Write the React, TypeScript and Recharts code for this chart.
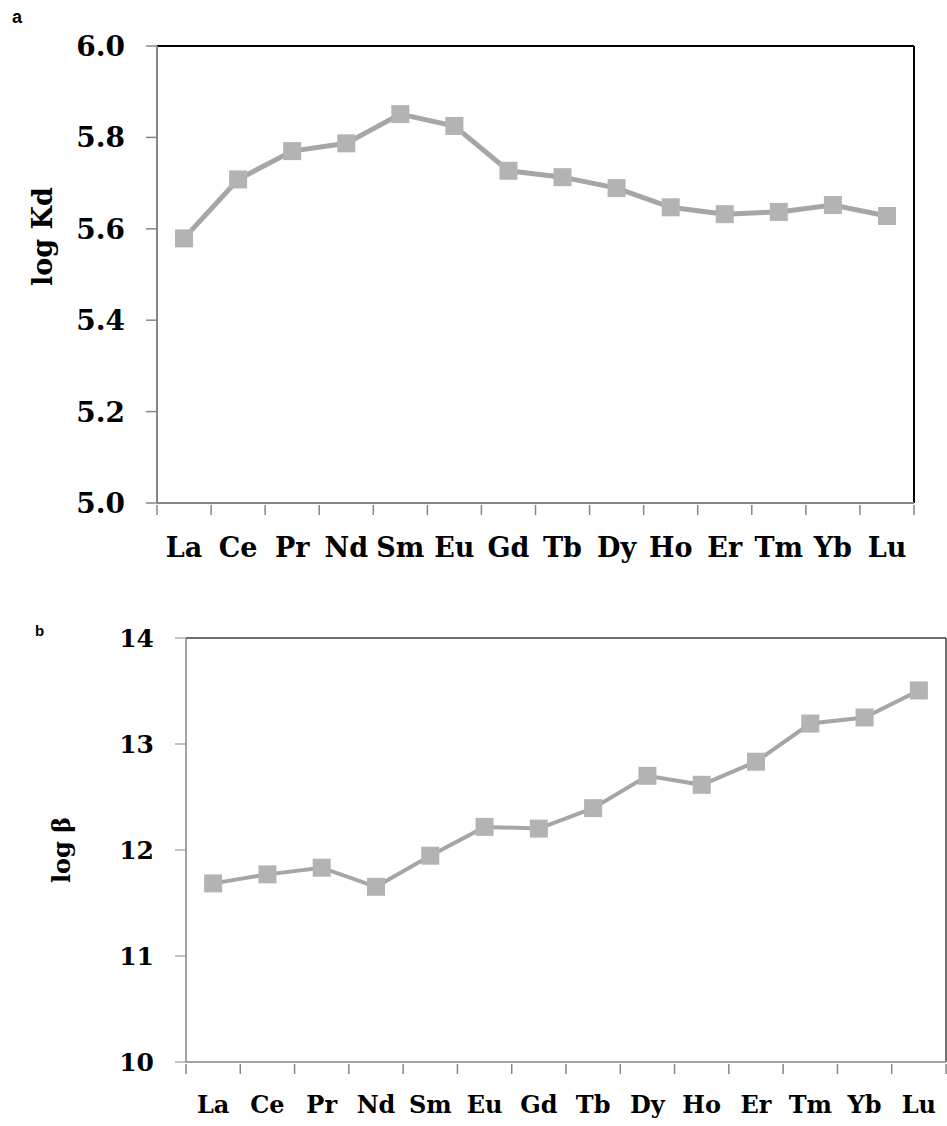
import React from "react";
import { LineChart, Line, XAxis, YAxis, ReferenceLine } from "recharts";

const elements = ["La", "Ce", "Pr", "Nd", "Sm", "Eu", "Gd", "Tb", "Dy", "Ho", "Er", "Tm", "Yb", "Lu"];
const logKd = [5.579, 5.708, 5.77, 5.787, 5.851, 5.825, 5.727, 5.713, 5.689, 5.647, 5.632, 5.637, 5.652, 5.628];
const logBeta = [11.685, 11.77, 11.833, 11.653, 11.946, 12.218, 12.202, 12.395, 12.7, 12.615, 12.833, 13.193, 13.25, 13.505];
const kdTicks = [5.0, 5.2, 5.4, 5.6, 5.8, 6.0];
const betaTicks = [10, 11, 12, 13, 14];

const SERIF = "'DejaVu Serif', serif";
const AXIS_GREY = "#868686";

// x positions are band centres; integer ticks mark band edges
const xTicks: number[] = [];
for (let i = 0; i <= elements.length * 2; i++) xTicks.push(i / 2);

const dataA = elements.map((el, i) => ({ x: i + 0.5, name: el, v: logKd[i] }));
const dataB = elements.map((el, i) => ({ x: i + 0.5, name: el, v: logBeta[i] }));

function makeTick(fontSize: number, labelGap: number) {
  return (props: any) => {
    const { x, y, payload } = props;
    const val = payload.value as number;
    if (Number.isInteger(val)) {
      return <line x1={x} y1={y} x2={x} y2={y + 10} stroke={AXIS_GREY} strokeWidth={1.5} />;
    }
    const label = elements[Math.floor(val)];
    return (
      <text x={x} y={y + labelGap} textAnchor="middle" dominantBaseline="hanging"
        fontFamily={SERIF} fontWeight="bold" fontSize={fontSize} fill="#000">
        {label}
      </text>
    );
  };
}

function Square(props: any) {
  const { cx, cy, size } = props;
  if (cx == null || cy == null) return null;
  return <rect x={cx - size / 2} y={cy - size / 2} width={size} height={size} fill="#b3b3b3" />;
}

export default function App() {
  return (
    <div style={{ position: "absolute", left: 0, top: 0, width: 947, height: 1126, background: "#fff" }}>
      <div style={{ position: "absolute", left: 12, top: 7, fontFamily: "'Liberation Sans', Arial", fontWeight: "bold", fontSize: 18 }}>a</div>
      <div style={{ position: "absolute", left: 35, top: 622, fontFamily: "'Liberation Sans', Arial", fontWeight: "bold", fontSize: 15 }}>b</div>

      <div style={{ position: "absolute", left: 0, top: 0 }}>
        <LineChart width={947} height={600} data={dataA} margin={{ top: 46, right: 33, bottom: 37, left: 0 }}>
          <XAxis dataKey="x" type="number" domain={[0, 14]} ticks={xTicks} interval={0}
            tickSize={0} tickLine={false} tick={makeTick(27, 32)} height={60}
            axisLine={{ stroke: AXIS_GREY, strokeWidth: 2 }} />
          <YAxis type="number" domain={[5, 6]} ticks={kdTicks} width={157} interval={0}
            tickFormatter={(v: number) => v.toFixed(1)}
            tickSize={11} tickMargin={21}
            tickLine={{ stroke: AXIS_GREY, strokeWidth: 1.5 }}
            axisLine={{ stroke: AXIS_GREY, strokeWidth: 2 }}
            tick={{ fontFamily: SERIF, fontWeight: "bold", fontSize: 28, fill: "#000" }}
            label={{ value: "log Kd", angle: -90, position: "insideLeft", dx: 37, dy: -38,
              style: { fontFamily: SERIF, fontWeight: "bold", fontSize: 27, fill: "#000", textAnchor: "middle" } }} />
          <ReferenceLine y={6} stroke="#000" strokeWidth={2} ifOverflow="visible" />
          <ReferenceLine x={14} stroke="#000" strokeWidth={2} ifOverflow="visible" />
          <Line dataKey="v" stroke="#a6a6a6" strokeWidth={5} isAnimationActive={false}
            dot={(p: any) => <Square key={p.index} {...p} size={18} />} activeDot={false} />
        </LineChart>
      </div>

      <div style={{ position: "absolute", left: 0, top: 600 }}>
        <LineChart width={947} height={526} data={dataB} margin={{ top: 38, right: 1, bottom: 4, left: 0 }}>
          <XAxis dataKey="x" type="number" domain={[0, 14]} ticks={xTicks} interval={0}
            tickSize={0} tickLine={false} tick={makeTick(24, 31)} height={60}
            axisLine={{ stroke: AXIS_GREY, strokeWidth: 1.5 }} />
          <YAxis type="number" domain={[10, 14]} ticks={betaTicks} width={186} interval={0}
            tickSize={11} tickMargin={21}
            tickLine={{ stroke: AXIS_GREY, strokeWidth: 1 }}
            axisLine={{ stroke: AXIS_GREY, strokeWidth: 1.5 }}
            tick={{ fontFamily: SERIF, fontWeight: "bold", fontSize: 25, fill: "#000" }}
            label={{ value: "log β", angle: -90, position: "insideLeft", dx: 56, dy: 0,
              style: { fontFamily: SERIF, fontWeight: "bold", fontSize: 24, fill: "#000", textAnchor: "middle" } }} />
          <ReferenceLine y={14} stroke="#404040" strokeWidth={1.5} ifOverflow="visible" />
          <ReferenceLine x={14} stroke="#404040" strokeWidth={1.5} ifOverflow="visible" />
          <Line dataKey="v" stroke="#a6a6a6" strokeWidth={4} isAnimationActive={false}
            dot={(p: any) => <Square key={p.index} {...p} size={18} />} activeDot={false} />
        </LineChart>
      </div>
    </div>
  );
}
